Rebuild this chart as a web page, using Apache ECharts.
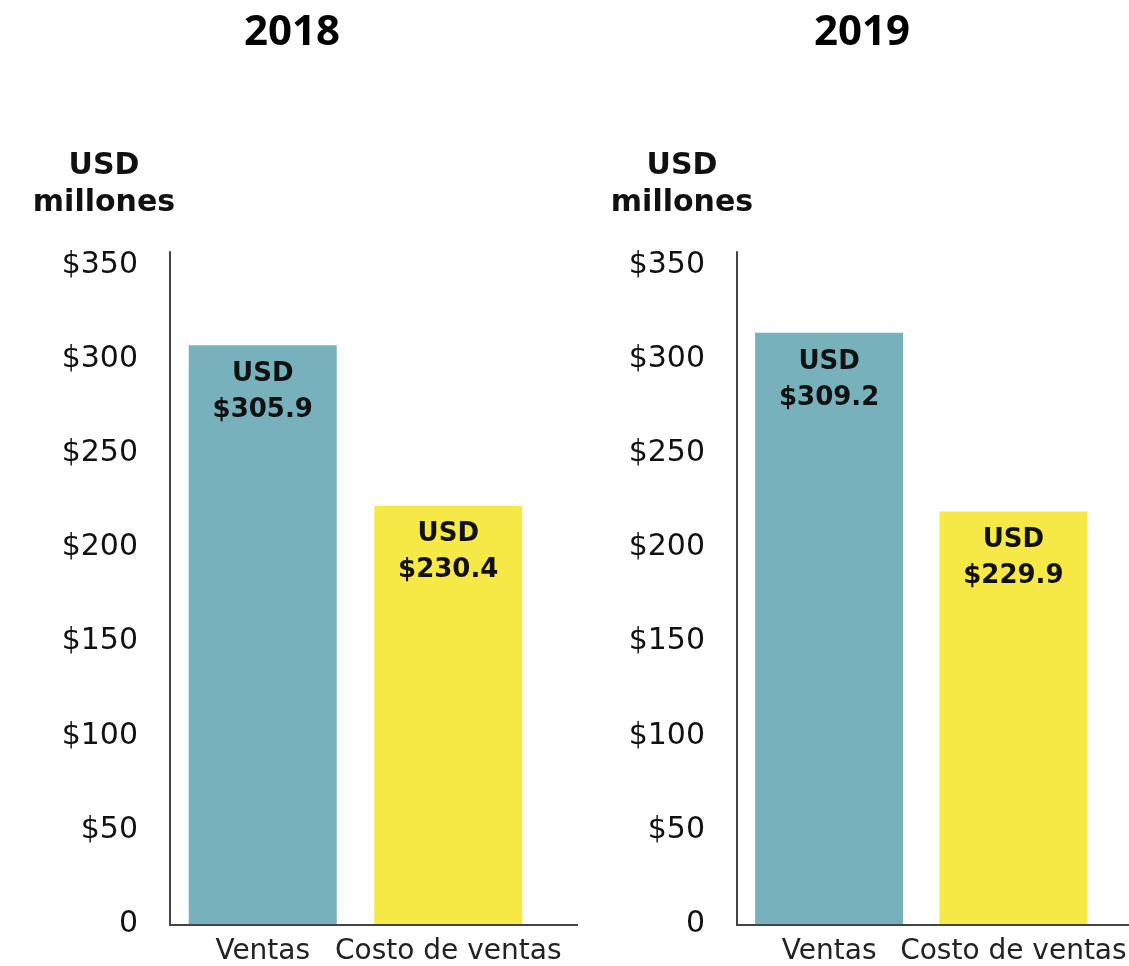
<!DOCTYPE html>
<html><head><meta charset="utf-8">
<script src="https://cdn.jsdelivr.net/npm/echarts@6/dist/echarts.min.js"></script>
<style>html,body{margin:0;padding:0;background:#fff}#c{width:1129px;height:966px}</style>
</head><body><div id="c"></div>
<script>
// ---- data ----
const categories = ['Ventas', 'Costo de ventas'];
const years = ['2018', '2019'];
const barValues2018 = [307.5, 222.2];   // bar heights as drawn
const barValues2019 = [314.1, 219.1];
const labelValues2018 = [305.9, 230.4]; // printed values
const labelValues2019 = [309.2, 229.9];
const yTickLabels = ['0', '$50', '$100', '$150', '$200', '$250', '$300', '$350'];
const axisName = 'USD\nmillones';

// ---- layout / style ----
const barColors = ['#76B1BC', '#F6E946'];
const axisColor = '#444';
const gridTop = 252, gridHeight = 673, gridWidth = 371;
const gridLefts = [170, 737];
const lineEnds = [578, 1129];
const yMax = 357;

const chart = echarts.init(document.getElementById('c'), null, {renderer: 'canvas'});

const barData = [barValues2018, barValues2019];
const labelData = [labelValues2018, labelValues2019];

const grids = gridLefts.map(l => ({left: l, top: gridTop, width: gridWidth, height: gridHeight, containLabel: false}));

const xAxes = gridLefts.map((l, i) => ({
  type: 'category', gridIndex: i, data: categories,
  axisLine: {show: false},
  axisTick: {show: false},
  axisLabel: {interval: 0, margin: 14, fontFamily: 'DejaVu Sans', fontSize: 28, color: '#222'}
}));

const yAxes = gridLefts.map((l, i) => ({
  type: 'value', gridIndex: i, min: 0, max: yMax, interval: 50,
  axisLine: {show: true, lineStyle: {color: axisColor, width: 2}},
  axisTick: {show: false},
  splitLine: {show: false},
  axisLabel: {
    showMaxLabel: false, margin: 32,
    fontFamily: 'DejaVu Sans', fontSize: 30, color: '#111',
    formatter: v => yTickLabels[Math.round(v / 50)] || ''
  }
}));

const series = years.map((y, i) => ({
  type: 'bar', name: y, xAxisIndex: i, yAxisIndex: i,
  barWidth: 148,
  data: barData[i].map((v, j) => ({value: v, itemStyle: {color: barColors[j]}})),
  label: {
    show: true, position: 'insideTop', distance: 11,
    formatter: p => 'USD\n$' + labelData[i][p.dataIndex].toFixed(1),
    fontFamily: 'DejaVu Sans', fontWeight: 'bold', fontSize: 26, lineHeight: 36, color: '#111'
  },
  emphasis: {disabled: true}
}));

const titleCenters = [292, 862];
const nameCenters = [104, 682];

const titles = [];
years.forEach((y, i) => {
  titles.push({text: y, left: titleCenters[i], top: 12, textAlign: 'center', padding: 0,
    textStyle: {fontFamily: 'Noto Sans', fontWeight: 'bold', fontSize: 42, color: '#000', lineHeight: 42}});
  titles.push({text: axisName, left: nameCenters[i], top: 148, textAlign: 'center', padding: 0,
    textStyle: {fontFamily: 'DejaVu Sans', fontWeight: 'bold', fontSize: 30, color: '#111', lineHeight: 37}});
});

// baseline of each panel (runs past the plot area to the panel edge)
const graphics = gridLefts.map((l, i) => ({
  type: 'line', silent: true, z: 10,
  shape: {x1: l - 1, y1: gridTop + gridHeight, x2: lineEnds[i], y2: gridTop + gridHeight},
  style: {stroke: axisColor, lineWidth: 2}
}));

chart.setOption({
  animation: false,
  backgroundColor: '#fff',
  title: titles,
  grid: grids,
  xAxis: xAxes,
  yAxis: yAxes,
  series: series,
  graphic: graphics
});
</script>
</body></html>
